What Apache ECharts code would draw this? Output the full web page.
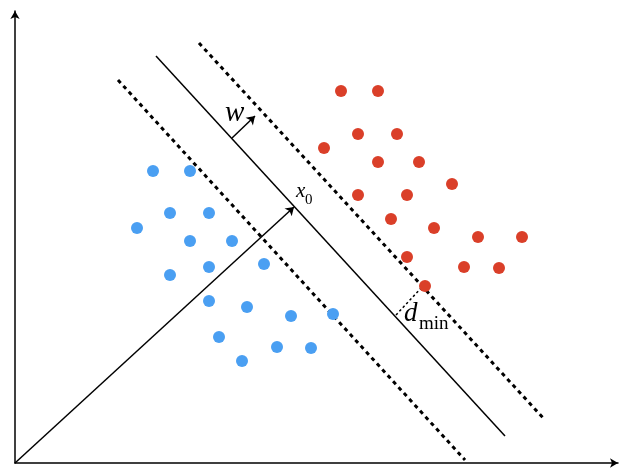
<!DOCTYPE html>
<html>
<head>
<meta charset="utf-8">
<script src="https://cdn.jsdelivr.net/npm/echarts@6/dist/echarts.min.js"></script>
<style>
  html, body { margin: 0; padding: 0; background: #fff; }
  #chart { width: 630px; height: 470px; }
</style>
</head>
<body>
<div id="chart"></div>
<script>
// Two linearly separable classes and a maximum-margin separating hyperplane.
const blueX = [138, 175, 155, 194, 122, 175, 217, 194, 249, 155, 194, 232, 276, 318, 204, 262, 296, 227];
const blueY = [292, 292, 250, 250, 235, 222, 222, 196, 199, 188, 162, 156, 147, 149, 126, 116, 115, 102];
const redX = [326, 363, 343, 382, 309, 363, 404, 437, 343, 392, 376, 419, 463, 507, 392, 449, 484, 410];
const redY = [372, 372, 329, 329, 315, 301, 301, 279, 268, 268, 244, 235, 226, 226, 206, 196, 195, 177];

// Hyperplane and the two margin boundaries (endpoints)
const hyperplane = [[141, 407], [490, 27]];
const marginLow = [[103, 383], [450, 3]];
const marginHigh = [[184, 420], [530, 43]];

// Vectors: x0 from the origin to the plane, normal w, and the minimum distance
const vecX0 = [[0, 0], [279, 256]];
const vecW = [[217, 325], [240, 347]];
const segDmin = [[381, 148], [408, 177]];

// Text pieces: [x, y, text, fontSize, italic]
const labels = [
  [281, 272, 'x', 21, true],
  [290, 263, '0', 15, false],
  [210, 350, 'w', 29, true],
  [389, 149, 'd', 27, true],
  [404, 139, 'min', 19, false]
];

const zip = (xs, ys) => xs.map((x, i) => [x, ys[i]]);

const serif = '"Liberation Serif", "DejaVu Serif", serif';
const ink = '#000';

const chart = echarts.init(document.getElementById('chart'), null, { renderer: 'canvas' });

function segment(coords, style, arrow) {
  return {
    type: 'lines',
    coordinateSystem: 'cartesian2d',
    polyline: false,
    silent: true,
    symbol: arrow ? ['none', 'arrow'] : 'none',
    symbolSize: 8,
    lineStyle: Object.assign({ color: ink, width: 1.5, opacity: 1, curveness: 0 }, style),
    data: [{ coords: coords }]
  };
}

function textMark(item) {
  return {
    type: 'scatter',
    silent: true,
    symbolSize: 0,
    itemStyle: { opacity: 1 },
    data: [[item[0], item[1]]],
    label: {
      show: true,
      position: [0, 0],
      align: 'left',
      verticalAlign: 'middle',
      formatter: item[2],
      fontFamily: serif,
      fontStyle: item[4] ? 'italic' : 'normal',
      fontSize: item[3],
      lineHeight: item[3],
      color: ink,
      opacity: 1
    },
    z: 10
  };
}

chart.setOption({
  animation: false,
  backgroundColor: '#fff',
  grid: { left: 15, right: 12, top: 11, bottom: 7 },
  xAxis: {
    type: 'value', min: 0, max: 603,
    axisLine: { show: true, onZero: false, symbol: ['none', 'arrow'], symbolSize: [7, 8],
      lineStyle: { color: ink, width: 1.5 } },
    axisTick: { show: false }, axisLabel: { show: false }, splitLine: { show: false }
  },
  yAxis: {
    type: 'value', min: 0, max: 452,
    axisLine: { show: true, onZero: false, symbol: ['none', 'arrow'], symbolSize: [7, 8],
      lineStyle: { color: ink, width: 1.5 } },
    axisTick: { show: false }, axisLabel: { show: false }, splitLine: { show: false }
  },
  series: [
    segment(hyperplane, { width: 1.5 }),
    segment(marginLow, { width: 3, type: [4, 4] }),
    segment(marginHigh, { width: 3, type: [4, 4] }),
    segment(vecX0, { width: 1.5 }, true),
    segment(vecW, { width: 1.5 }, true),
    segment(segDmin, { width: 1.5, type: [2.5, 2.5] }),
    {
      type: 'scatter', silent: true, symbol: 'circle', symbolSize: 12,
      itemStyle: { color: '#4a9ff2', opacity: 1 },
      data: zip(blueX, blueY), z: 5
    },
    {
      type: 'scatter', silent: true, symbol: 'circle', symbolSize: 12,
      itemStyle: { color: '#da3f29', opacity: 1 },
      data: zip(redX, redY), z: 5
    }
  ].concat(labels.map(textMark))
});
</script>
</body>
</html>
